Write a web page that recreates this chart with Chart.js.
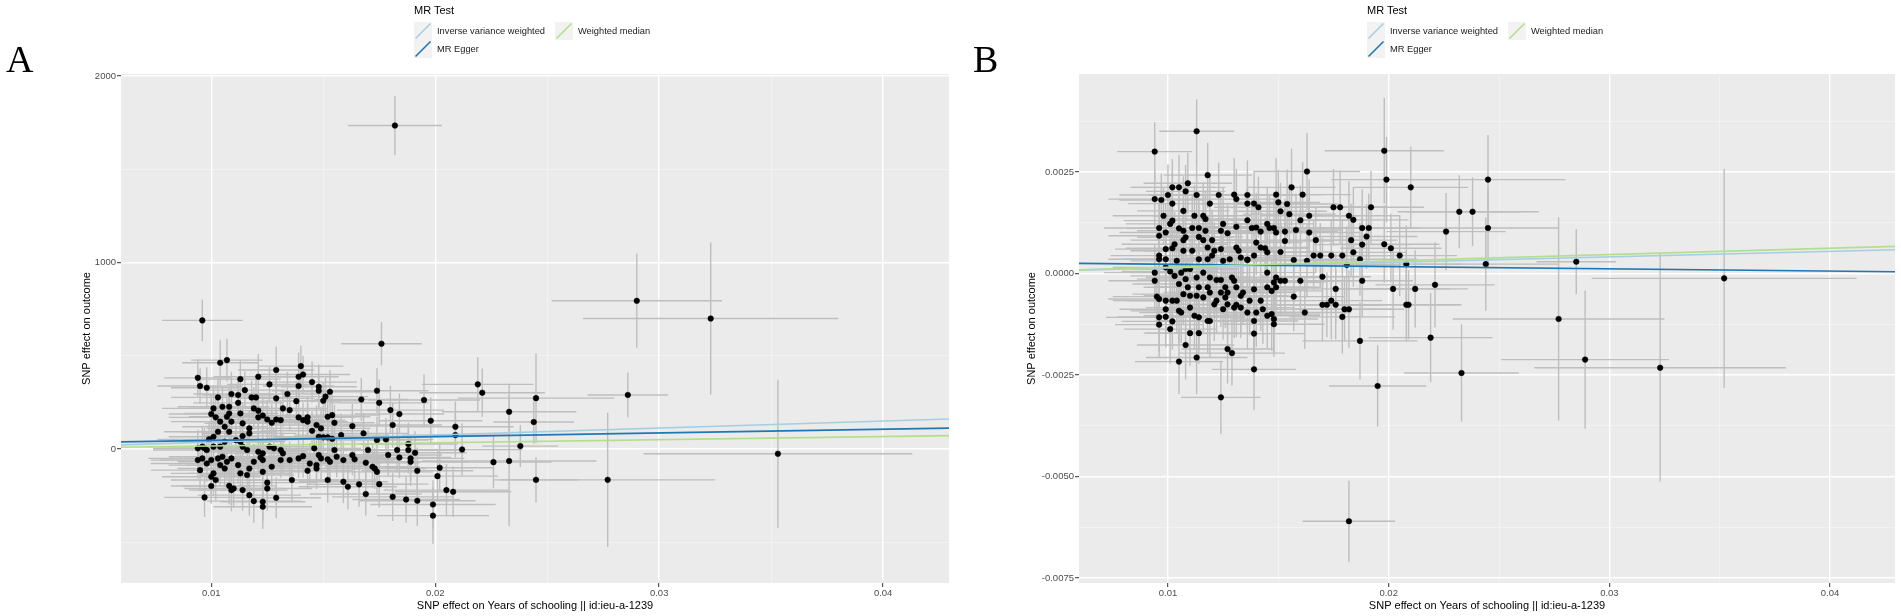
<!DOCTYPE html>
<html lang="en">
<head>
<meta charset="UTF-8" />
<title>MR scatter plots | Years of schooling</title>
<script src="https://cdn.jsdelivr.net/npm/chart.js"></script>
<style>
  html, body { margin: 0; padding: 0; background: #fff; overflow: hidden; }
  body { font-family: "Liberation Sans", Arial, sans-serif; }
  #wrap { position: relative; width: 1901px; height: 616px; }
  .panel { position: absolute; top: 0; height: 616px; }
  #panelA { left: 0; width: 960px; }
  #panelB { left: 960px; width: 941px; }
  .tag { position: absolute; top: 40px; font-family: "Liberation Serif", "Times New Roman", serif; font-size: 38px; line-height: 38px; color: #000; }
  .legend { position: absolute; top: 0; width: 260px; height: 60px; color: #1a1a1a; font-size: 9.3px; }
  .legend .ttl { position: absolute; left: 0; top: 3px; font-size: 11px; line-height: 14px; color: #000; white-space: nowrap; }
  .legend .key { position: absolute; width: 18px; height: 18px; background: #f2f2f2; }
  .legend .key svg { display: block; }
  .legend .lab { position: absolute; line-height: 18px; white-space: nowrap; }
</style>
</head>
<body>
<div id="wrap">
  <div class="panel" id="panelA"><canvas id="chartA"></canvas></div>
  <div class="panel" id="panelB"><canvas id="chartB"></canvas></div>
  <div class="tag" style="left:6px">A</div>
  <div class="tag" style="left:973px">B</div>
  <div class="legend" id="legendA" style="left:414px"></div>
  <div class="legend" id="legendB" style="left:1367px"></div>
</div>

<script>
// ---- data ----
const methodNames = ['Inverse variance weighted', 'MR Egger', 'Weighted median'];
const methodColors = ['#a6cee3', '#1f78b4', '#b2df8a'];
const aIntercepts = [0, 27, 0];
const aSlopes = [3750, 1990, 1675];
const bIntercepts = [0, 0.00028, 0];
const bSlopes = [0.0136, -0.0055, 0.0155];

const xTickValues = [0.01, 0.02, 0.03, 0.04];
const xTickLabels = ['0.01', '0.02', '0.03', '0.04'];
const aYTickValues = [0, 1000, 2000];
const aYTickLabels = ['0', '1000', '2000'];
const bYTickValues = [-0.0075, -0.005, -0.0025, 0, 0.0025];
const bYTickLabels = ['-0.0075', '-0.0050', '-0.0025', '0.0000', '0.0025'];
const xRange = [0.00597, 0.04294];
const aYRange = [-718, 2011];
const bYRange = [-0.00762, 0.00491];
const xTitle = 'SNP effect on Years of schooling || id:ieu-a-1239';
const yTitle = 'SNP effect on outcome';

// panel A: SNP effects (exposure, outcome) and their standard errors
const aX = [
  0.0176,0.0104,0.0107,0.0094,0.0095,0.0098,0.0113,0.0121,0.0129,0.0140,
  0.0141,0.0139,0.0139,0.0126,0.0145,0.0148,0.0148,0.0153,0.0151,0.0150,
  0.0138,0.0129,0.0134,0.0115,0.0112,0.0112,0.0109,0.0103,0.0118,0.0120,
  0.0119,0.0121,0.0113,0.0105,0.0108,0.0101,0.0100,0.0102,0.0107,0.0108,
  0.0109,0.0104,0.0106,0.0108,0.0103,0.0101,0.0099,0.0096,0.0097,0.0094,
  0.0098,0.0101,0.0104,0.0106,0.0111,0.0113,0.0114,0.0117,0.0117,0.0114,
  0.0121,0.0123,0.0125,0.0127,0.0129,0.0131,0.0132,0.0135,0.0139,0.0141,
  0.0143,0.0143,0.0147,0.0149,0.0152,0.0154,0.0155,0.0145,0.0148,0.0150,
  0.0152,0.0154,0.0158,0.0163,0.0168,0.0174,0.0178,0.0180,0.0181,0.0184,
  0.0195,0.0198,0.0209,0.0209,0.0212,0.0219,0.0221,0.0233,0.0226,0.0167,
  0.0174,0.0175,0.0094,0.0096,0.0095,0.0098,0.0100,0.0103,0.0105,0.0107,
  0.0109,0.0104,0.0106,0.0101,0.0100,0.0102,0.0100,0.0108,0.0109,0.0110,
  0.0114,0.0113,0.0116,0.0117,0.0121,0.0123,0.0122,0.0123,0.0119,0.0116,
  0.0114,0.0112,0.0126,0.0128,0.0131,0.0132,0.0131,0.0127,0.0123,0.0125,
  0.0125,0.0117,0.0119,0.0123,0.0123,0.0129,0.0097,0.0135,0.0136,0.0139,
  0.0141,0.0143,0.0144,0.0146,0.0148,0.0149,0.0152,0.0153,0.0147,0.0147,
  0.0152,0.0155,0.0156,0.0159,0.0159,0.0161,0.0163,0.0164,0.0166,0.0169,
  0.0170,0.0169,0.0172,0.0173,0.0174,0.0175,0.0179,0.0183,0.0184,0.0188,
  0.0188,0.0189,0.0189,0.0191,0.0192,0.0181,0.0187,0.0192,0.0199,0.0199,
  0.0201,0.0202,0.0205,0.0208,
  0.0096,0.0182,0.0290,0.0323,0.0286,0.0353,0.0277,0.0245,0.0245,0.0244,0.0238,0.0233
];
const aY = [
  565,463,477,382,338,329,375,388,424,445,
  400,388,338,347,359,334,313,307,281,259,
  257,272,295,316,290,248,295,277,277,277,
  218,206,191,227,227,218,188,170,173,191,
  147,147,120,93,93,66,52,13,4,4,
  -5,13,13,39,48,39,70,84,111,138,
  170,180,159,141,159,155,218,209,170,155,
  170,147,129,111,173,182,141,98,66,63,
  63,55,75,123,84,48,52,209,129,188,
  263,152,120,75,-2,347,302,200,-70,266,
  313,248,-59,-50,-113,-77,-59,-50,-41,-68,
  -50,-86,-104,-130,-148,-166,-198,-197,-220,-211,
  -220,-130,-139,-104,-14,-23,-45,-59,-68,-5,
  13,-86,13,4,-5,-23,-59,-95,-122,-180,
  -211,-247,-279,-282,-309,-261,-259,-59,-166,-50,
  -38,-116,-77,4,-32,-50,-55,-68,-86,-104,
  -166,-5,-41,-59,-175,-202,-32,-55,-189,-241,
  -5,-73,-95,-104,-122,-188,-32,-5,-45,-5,
  27,-50,-68,-20,-116,-256,-270,-277,-297,-357,
  -145,-100,-220,-229,
  690,1735,795,700,290,-25,-165,-165,273,145,16,-64
];
const aSeX = [
  0.0018,0.0017,0.0016,0.0015,0.0019,0.0016,0.0018,0.0020,0.0017,0.0019,
  0.0021,0.0018,0.0016,0.0019,0.0020,0.0017,0.0021,0.0022,0.0019,0.0018,
  0.0020,0.0017,0.0019,0.0018,0.0016,0.0020,0.0017,0.0021,0.0018,0.0016,
  0.0019,0.0022,0.0017,0.0020,0.0018,0.0023,0.0019,0.0021,0.0017,0.0020,
  0.0018,0.0022,0.0019,0.0021,0.0024,0.0020,0.0023,0.0025,0.0022,0.0020,
  0.0024,0.0021,0.0023,0.0019,0.0022,0.0020,0.0018,0.0021,0.0019,0.0017,
  0.0020,0.0018,0.0022,0.0019,0.0021,0.0018,0.0020,0.0017,0.0022,0.0019,
  0.0021,0.0018,0.0020,0.0022,0.0019,0.0021,0.0018,0.0023,0.0020,0.0022,
  0.0019,0.0024,0.0021,0.0022,0.0020,0.0023,0.0021,0.0024,0.0022,0.0020,
  0.0025,0.0023,0.0026,0.0024,0.0027,0.0025,0.0028,0.0030,0.0026,0.0021,
  0.0023,0.0022,0.0021,0.0024,0.0022,0.0025,0.0023,0.0021,0.0024,0.0022,
  0.0020,0.0023,0.0021,0.0019,0.0022,0.0020,0.0018,0.0021,0.0019,0.0022,
  0.0020,0.0023,0.0021,0.0019,0.0022,0.0020,0.0024,0.0021,0.0019,0.0022,
  0.0020,0.0023,0.0021,0.0019,0.0022,0.0020,0.0024,0.0021,0.0019,0.0022,
  0.0020,0.0023,0.0021,0.0019,0.0022,0.0020,0.0018,0.0023,0.0021,0.0019,
  0.0022,0.0020,0.0024,0.0021,0.0019,0.0022,0.0020,0.0023,0.0021,0.0019,
  0.0022,0.0024,0.0021,0.0023,0.0020,0.0022,0.0024,0.0021,0.0023,0.0025,
  0.0022,0.0024,0.0021,0.0023,0.0025,0.0022,0.0024,0.0026,0.0023,0.0025,
  0.0022,0.0024,0.0026,0.0023,0.0025,0.0027,0.0024,0.0026,0.0028,0.0025,
  0.0027,0.0024,0.0028,0.0026,
  0.0018,0.0021,0.0038,0.0057,0.0018,0.0060,0.0048,0.0019,0.0035,0.0018,0.0017,0.0039
];
const aSeY = [
  116,120,115,100,95,110,105,120,125,110,
  100,130,105,95,110,120,90,115,100,95,
  110,105,120,100,95,110,120,100,90,105,
  115,100,95,110,100,120,105,95,110,100,
  120,95,105,110,100,115,95,105,110,100,
  95,120,105,110,100,95,115,105,100,110,
  120,95,105,100,115,110,100,105,120,95,
  110,100,105,115,100,110,95,105,120,100,
  110,105,115,120,110,125,115,130,120,110,
  140,125,135,120,140,145,130,150,140,115,
  120,125,100,95,110,100,105,115,100,95,
  110,105,100,120,105,110,95,100,115,105,
  110,100,95,110,120,105,100,110,95,105,
  110,100,115,105,100,110,95,105,110,115,
  120,110,115,105,120,110,105,100,110,105,
  115,100,110,105,95,110,100,115,105,110,
  120,105,110,100,115,120,110,105,120,115,
  110,105,115,110,120,125,115,120,110,125,
  115,120,130,115,125,130,125,135,130,150,
  135,125,140,135,
  112,158,252,408,120,397,360,120,240,116,112,350
];

// panel B
const bX = [
  0.0094,0.0118,0.0163,0.0198,0.0199,0.0210,0.0245,0.0232,0.0238,0.0226,0.0245,
  0.0102,0.0105,0.0108,0.0109,0.0113,0.0119,0.0123,0.0130,0.0131,0.0136,
  0.0136,0.0139,0.0141,0.0149,0.0150,0.0151,0.0154,0.0156,0.0161,0.0155,
  0.0160,0.0164,0.0094,0.0097,0.0100,0.0102,0.0098,0.0107,0.0112,0.0116,
  0.0117,0.0111,0.0107,0.0105,0.0102,0.0101,0.0096,0.0096,0.0099,0.0107,
  0.0108,0.0114,0.0114,0.0117,0.0120,0.0124,0.0125,0.0127,0.0131,0.0136,
  0.0138,0.0140,0.0142,0.0145,0.0146,0.0148,0.0149,0.0153,0.0158,0.0164,
  0.0167,0.0175,0.0178,0.0182,0.0184,0.0192,0.0191,0.0188,0.0190,0.0183,
  0.0184,0.0188,0.0198,0.0201,0.0205,0.0116,0.0118,0.0121,0.0120,0.0124,
  0.0131,0.0132,0.0133,0.0136,0.0139,0.0142,0.0144,0.0145,0.0140,0.0151,
  0.0153,0.0157,0.0163,0.0166,0.0169,0.0174,0.0179,0.0181,0.0187,0.0099,
  0.0102,0.0103,0.0096,0.0099,0.0096,0.0104,0.0107,0.0111,0.0114,0.0118,
  0.0125,0.0128,0.0136,0.0110,
  0.0094,0.0094,0.0099,0.0101,0.0103,0.0106,0.0105,0.0108,0.0108,0.0109,
  0.0113,0.0116,0.0119,0.0118,0.0122,0.0124,0.0114,0.0113,0.0116,0.0110,
  0.0107,0.0104,0.0099,0.0102,0.0095,0.0096,0.0099,0.0096,0.0099,0.0096,
  0.0102,0.0101,0.0106,0.0105,0.0110,0.0112,0.0114,0.0118,0.0119,0.0126,
  0.0127,0.0130,0.0129,0.0126,0.0131,0.0124,0.0119,0.0122,0.0121,0.0125,
  0.0127,0.0131,0.0133,0.0136,0.0139,0.0140,0.0142,0.0139,0.0145,0.0145,
  0.0148,0.0149,0.0151,0.0153,0.0149,0.0147,0.0143,0.0145,0.0147,0.0148,0.0148,
  0.0137,0.0134,0.0133,0.0130,0.0139,0.0110,0.0114,0.0108,
  0.0105,0.0113,0.0127,0.0129,0.0124,0.0139,0.0157,0.0162,0.0160,0.0170,
  0.0176,0.0170,0.0172,0.0174,0.0176,0.0179,0.0180,0.0182,0.0188,0.0202,
  0.0212,0.0221,0.0208,0.0209,0.0187,0.0195,0.0219,0.0233,0.0208,0.0244,
  0.0113,0.0285,0.0277,0.0289,0.0323,0.0352,0.0182
];
const bY = [
  0.0030,0.00242,0.00251,0.00302,0.00231,0.00212,0.00231,0.00152,0.00152,0.00103,0.00112,
  0.00212,0.00212,0.00202,0.00222,0.00193,0.00172,0.00193,0.00194,0.00183,0.00193,
  0.00172,0.00172,0.00163,0.00194,0.00175,0.00153,0.00171,0.00212,0.00194,0.00146,
  0.00131,0.00142,0.00183,0.00181,0.00193,0.00172,0.00142,0.00154,0.00142,0.00142,
  0.00134,0.00112,0.00105,0.00111,0.00130,0.00122,0.00112,0.00093,0.00101,0.00082,
  0.00089,0.00090,0.00112,0.00105,0.00082,0.00105,0.00122,0.00099,0.00115,0.00131,
  0.00112,0.00113,0.00103,0.00122,0.00112,0.00112,0.00101,0.00103,0.00107,0.00101,
  0.00082,0.00163,0.00163,0.00142,0.00132,0.00163,0.00112,0.00112,0.00091,0.00082,
  0.00052,0.00071,0.00072,0.00062,0.00044,0.00082,0.00064,0.00056,0.00044,0.00060,
  0.00064,0.00056,0.00039,0.00034,0.00044,0.00064,0.00062,0.00052,0.00076,0.00053,
  0.00080,0.00033,0.00031,0.00044,0.00044,0.00044,0.00044,0.00021,0.00035,0.00060,
  0.00062,0.00072,0.00044,0.00035,0.00035,0.00031,0.00056,0.00056,0.00035,0.00035,
  0.00031,0.00035,0.00033,0.00011,
  0.00002,-0.00018,0.00015,0.00005,-0.00006,0.00002,-0.00026,0.00011,-0.00014,-0.00034,
  -0.00010,0.00002,-0.00010,-0.00034,-0.00016,-0.00016,-0.00034,-0.00055,-0.00059,-0.00055,
  -0.00051,-0.00067,-0.00067,-0.00067,-0.00057,-0.00063,-0.00088,-0.00108,-0.00107,-0.00126,
  -0.00118,-0.00137,-0.00096,-0.00092,-0.00084,-0.00104,-0.00108,-0.00117,-0.00117,-0.00059,
  -0.00047,-0.00018,-0.00010,-0.00034,-0.00034,-0.00047,-0.00047,-0.00067,-0.00076,-0.00088,
  -0.00076,-0.00077,-0.00084,-0.00096,-0.00117,-0.00096,-0.00067,-0.00039,0.00002,-0.00034,
  -0.00022,-0.00010,-0.00018,-0.00018,-0.00034,-0.00043,-0.00088,-0.00104,-0.00100,-0.00112,-0.00125,
  -0.00067,-0.00047,-0.00055,-0.00084,-0.00148,-0.00147,-0.00147,-0.00176,
  -0.00217,-0.00207,-0.00186,-0.00196,-0.00305,-0.00236,-0.00057,-0.00096,-0.00018,-0.00008,
  -0.00038,-0.00077,-0.00077,-0.00067,-0.00077,-0.00107,-0.00088,-0.00088,-0.00018,-0.00038,
  -0.00038,-0.00028,-0.00077,-0.00077,-0.00166,-0.00277,-0.00158,-0.00245,0.00023,0.00023,
  0.0035,0.00029,-0.00112,-0.00212,-0.00232,-0.00012,-0.0061
];
const bSeX = [
  0.0017,0.0020,0.0024,0.0027,0.0025,0.0026,0.0035,0.0028,0.0030,0.0027,0.0032,
  0.0019,0.0021,0.0018,0.0020,0.0022,0.0019,0.0021,0.0018,0.0020,0.0022,
  0.0019,0.0021,0.0020,0.0022,0.0019,0.0021,0.0023,0.0020,0.0022,0.0021,
  0.0023,0.0022,0.0021,0.0019,0.0022,0.0020,0.0023,0.0021,0.0019,0.0022,
  0.0020,0.0023,0.0021,0.0024,0.0022,0.0020,0.0025,0.0023,0.0021,0.0024,
  0.0022,0.0020,0.0023,0.0021,0.0019,0.0022,0.0020,0.0023,0.0021,0.0019,
  0.0022,0.0020,0.0023,0.0021,0.0019,0.0022,0.0020,0.0024,0.0021,0.0023,
  0.0022,0.0024,0.0021,0.0023,0.0025,0.0024,0.0022,0.0026,0.0023,0.0021,
  0.0024,0.0022,0.0025,0.0023,0.0026,0.0022,0.0020,0.0023,0.0021,0.0024,
  0.0022,0.0020,0.0023,0.0021,0.0024,0.0022,0.0020,0.0023,0.0021,0.0024,
  0.0022,0.0021,0.0024,0.0022,0.0023,0.0025,0.0022,0.0024,0.0026,0.0023,
  0.0021,0.0024,0.0022,0.0020,0.0023,0.0021,0.0024,0.0022,0.0020,0.0023,
  0.0021,0.0024,0.0022,0.0020,
  0.0023,0.0021,0.0024,0.0022,0.0020,0.0023,0.0021,0.0024,0.0022,0.0020,
  0.0023,0.0021,0.0019,0.0022,0.0020,0.0023,0.0021,0.0024,0.0022,0.0020,
  0.0023,0.0021,0.0024,0.0022,0.0020,0.0023,0.0021,0.0024,0.0022,0.0020,
  0.0023,0.0021,0.0019,0.0022,0.0020,0.0023,0.0021,0.0024,0.0022,0.0020,
  0.0023,0.0021,0.0024,0.0022,0.0020,0.0023,0.0021,0.0019,0.0022,0.0020,
  0.0023,0.0021,0.0024,0.0022,0.0020,0.0023,0.0021,0.0024,0.0022,0.0020,
  0.0023,0.0021,0.0024,0.0022,0.0020,0.0023,0.0021,0.0024,0.0022,0.0020,0.0023,
  0.0021,0.0024,0.0022,0.0020,0.0023,0.0021,0.0024,0.0022,
  0.0020,0.0023,0.0021,0.0024,0.0018,0.0019,0.0023,0.0021,0.0024,0.0022,
  0.0024,0.0022,0.0025,0.0023,0.0021,0.0024,0.0022,0.0025,0.0023,0.0026,
  0.0024,0.0027,0.0025,0.0023,0.0026,0.0022,0.0028,0.0026,0.0025,0.0033,
  0.0017,0.0018,0.0048,0.0038,0.0057,0.0060,0.0021
];
const bSeY = [
  0.00072,0.00080,0.00095,0.00130,0.00105,0.00100,0.00110,0.00090,0.00085,0.00095,0.00100,
  0.00070,0.00080,0.00065,0.00075,0.00085,0.00070,0.00080,0.00090,0.00075,0.00085,
  0.00070,0.00080,0.00075,0.00090,0.00080,0.00070,0.00085,0.00095,0.00080,0.00075,
  0.00085,0.00090,0.00070,0.00065,0.00075,0.00080,0.00070,0.00085,0.00075,0.00080,
  0.00070,0.00085,0.00075,0.00080,0.00070,0.00065,0.00075,0.00080,0.00070,0.00085,
  0.00075,0.00080,0.00070,0.00085,0.00075,0.00080,0.00090,0.00075,0.00085,0.00080,
  0.00070,0.00085,0.00075,0.00090,0.00080,0.00075,0.00085,0.00080,0.00090,0.00085,
  0.00080,0.00095,0.00090,0.00085,0.00080,0.00090,0.00085,0.00095,0.00080,0.00090,
  0.00085,0.00090,0.00095,0.00085,0.00100,0.00075,0.00080,0.00070,0.00085,0.00075,
  0.00080,0.00070,0.00085,0.00075,0.00080,0.00090,0.00075,0.00085,0.00080,0.00075,
  0.00085,0.00080,0.00090,0.00085,0.00080,0.00090,0.00085,0.00095,0.00090,0.00070,
  0.00075,0.00080,0.00070,0.00075,0.00065,0.00080,0.00075,0.00070,0.00085,0.00080,
  0.00075,0.00080,0.00085,0.00075,
  0.00070,0.00075,0.00080,0.00070,0.00085,0.00075,0.00080,0.00070,0.00085,0.00075,
  0.00080,0.00070,0.00085,0.00075,0.00080,0.00090,0.00075,0.00080,0.00085,0.00070,
  0.00075,0.00080,0.00070,0.00085,0.00075,0.00080,0.00070,0.00085,0.00075,0.00080,
  0.00070,0.00085,0.00075,0.00080,0.00070,0.00085,0.00075,0.00080,0.00090,0.00075,
  0.00080,0.00085,0.00075,0.00080,0.00070,0.00085,0.00075,0.00080,0.00090,0.00075,
  0.00085,0.00080,0.00075,0.00090,0.00080,0.00085,0.00075,0.00080,0.00090,0.00085,
  0.00080,0.00075,0.00085,0.00080,0.00090,0.00075,0.00085,0.00080,0.00090,0.00085,0.00080,
  0.00085,0.00080,0.00090,0.00075,0.00085,0.00080,0.00075,0.00085,
  0.00080,0.00090,0.00085,0.00080,0.00090,0.00100,0.00085,0.00090,0.00080,0.00095,
  0.00085,0.00090,0.00080,0.00095,0.00085,0.00090,0.00080,0.00095,0.00090,0.00100,
  0.00095,0.00105,0.00090,0.00085,0.00095,0.00100,0.00110,0.00120,0.00095,0.00115,
  0.00079,0.00080,0.00250,0.00170,0.00280,0.00270,0.00100
];

// ---- drawing ----
Chart.defaults.font.family = '"Liberation Sans", Arial, sans-serif';
Chart.defaults.animation = false;

const panelBg = {
  id: 'panelBg',
  beforeDraw(chart) {
    const { ctx, chartArea: a } = chart;
    ctx.save();
    ctx.fillStyle = '#ebebeb';
    ctx.fillRect(a.left, a.top, a.right - a.left, a.bottom - a.top);
    ctx.restore();
  }
};

// grey +/- 1 SE bars behind the points
const errorBars = {
  id: 'errorBars',
  beforeDatasetsDraw(chart) {
    const { ctx, chartArea: a, scales: { x, y } } = chart;
    ctx.save();
    ctx.beginPath();
    ctx.rect(a.left, a.top, a.right - a.left, a.bottom - a.top);
    ctx.clip();
    ctx.strokeStyle = '#bebebe';
    ctx.lineWidth = 1.4;
    chart.data.datasets.forEach(ds => {
      if (!ds.seX) return;
      ds.data.forEach((p, i) => {
        const px = x.getPixelForValue(p.x), py = y.getPixelForValue(p.y);
        ctx.beginPath();
        ctx.moveTo(x.getPixelForValue(p.x - ds.seX[i]), py);
        ctx.lineTo(x.getPixelForValue(p.x + ds.seX[i]), py);
        ctx.moveTo(px, y.getPixelForValue(p.y - ds.seY[i]));
        ctx.lineTo(px, y.getPixelForValue(p.y + ds.seY[i]));
        ctx.stroke();
      });
    });
    ctx.restore();
  }
};

function tickList(majors, range) {
  const step = majors[1] - majors[0];
  const out = majors.map(v => ({ value: v, minor: false }));
  majors.concat([majors[majors.length - 1] + step]).forEach(v => {
    const m = v - step / 2;
    if (m > range[0] && m < range[1]) out.push({ value: m, minor: true });
  });
  return out.sort((p, q) => p.value - q.value);
}

function axis(horizontal, range, majors, labels, title, size, titlePad) {
  return {
    type: 'linear',
    position: horizontal ? 'bottom' : 'left',
    min: range[0],
    max: range[1],
    afterBuildTicks: s => { s.ticks = tickList(majors, range); },
    afterFit: s => { if (horizontal) s.height = size; else s.width = size; },
    ticks: {
      autoSkip: false,
      maxRotation: 0,
      color: '#4d4d4d',
      font: { size: 9.5 },
      padding: 1,
      callback: v => { const k = majors.indexOf(v); return k < 0 ? '' : labels[k]; }
    },
    grid: {
      color: c => (c.tick && c.tick.minor) ? 'rgba(255,255,255,0.55)' : '#ffffff',
      lineWidth: c => (c.tick && c.tick.minor) ? 0.7 : 1.4,
      tickColor: c => (c.tick && c.tick.minor) ? 'rgba(0,0,0,0)' : '#333333',
      tickWidth: 1,
      tickLength: 4
    },
    border: { display: false },
    title: {
      display: true,
      text: title,
      color: '#000',
      font: { size: 11 },
      padding: horizontal ? { top: 0, bottom: 3 } : { top: titlePad, bottom: 0 }
    }
  };
}

function makeChart(id, xs, ys, seX, seY, intercepts, slopes, yRange, yTicks, yLabels, yWidth, yTitlePad, padRight) {
  const datasets = [{
    label: 'SNPs',
    data: xs.map((v, i) => ({ x: v, y: ys[i] })),
    seX: seX,
    seY: seY,
    pointRadius: 2.8,
    pointBackgroundColor: '#000',
    pointBorderColor: '#000',
    pointBorderWidth: 0.5,
    order: 10
  }];
  methodNames.forEach((name, k) => {
    datasets.push({
      label: name,
      data: xRange.map(v => ({ x: v, y: intercepts[k] + slopes[k] * v })),
      showLine: true,
      borderColor: methodColors[k],
      borderWidth: 1.6,
      pointRadius: 0,
      order: 2 - k
    });
  });
  return new Chart(document.getElementById(id), {
    type: 'scatter',
    data: { datasets },
    options: {
      responsive: true,
      maintainAspectRatio: false,
      layout: { padding: { left: 0, right: padRight, top: 74, bottom: 0 } },
      plugins: { legend: { display: false }, tooltip: { enabled: false } },
      scales: {
        x: axis(true, xRange, xTickValues, xTickLabels, xTitle, 33, 0),
        y: axis(false, yRange, yTicks, yLabels, yTitle, yWidth, yTitlePad)
      }
    },
    plugins: [panelBg, errorBars]
  });
}

function buildLegend(id) {
  const box = document.getElementById(id);
  const ttl = document.createElement('div');
  ttl.className = 'ttl';
  ttl.textContent = 'MR Test';
  box.appendChild(ttl);
  const colX = [0, 141], rowY = [22, 40];
  methodNames.forEach((name, i) => {
    const col = Math.floor(i / 2), row = i % 2;
    const key = document.createElement('div');
    key.className = 'key';
    key.style.left = colX[col] + 'px';
    key.style.top = rowY[row] + 'px';
    key.innerHTML = '<svg width="18" height="18"><line x1="1.5" y1="16.5" x2="16.5" y2="1.5" stroke="' +
      methodColors[i] + '" stroke-width="1.6"/></svg>';
    box.appendChild(key);
    const lab = document.createElement('div');
    lab.className = 'lab';
    lab.style.left = (colX[col] + 23) + 'px';
    lab.style.top = rowY[row] + 'px';
    lab.textContent = name;
    box.appendChild(lab);
  });
}

makeChart('chartA', aX, aY, aSeX, aSeY, aIntercepts, aSlopes, aYRange, aYTickValues, aYTickLabels, 121, 80, 11);
makeChart('chartB', bX, bY, bSeX, bSeY, bIntercepts, bSlopes, bYRange, bYTickValues, bYTickLabels, 119, 65, 6);
buildLegend('legendA');
buildLegend('legendB');
</script>
</body>
</html>
